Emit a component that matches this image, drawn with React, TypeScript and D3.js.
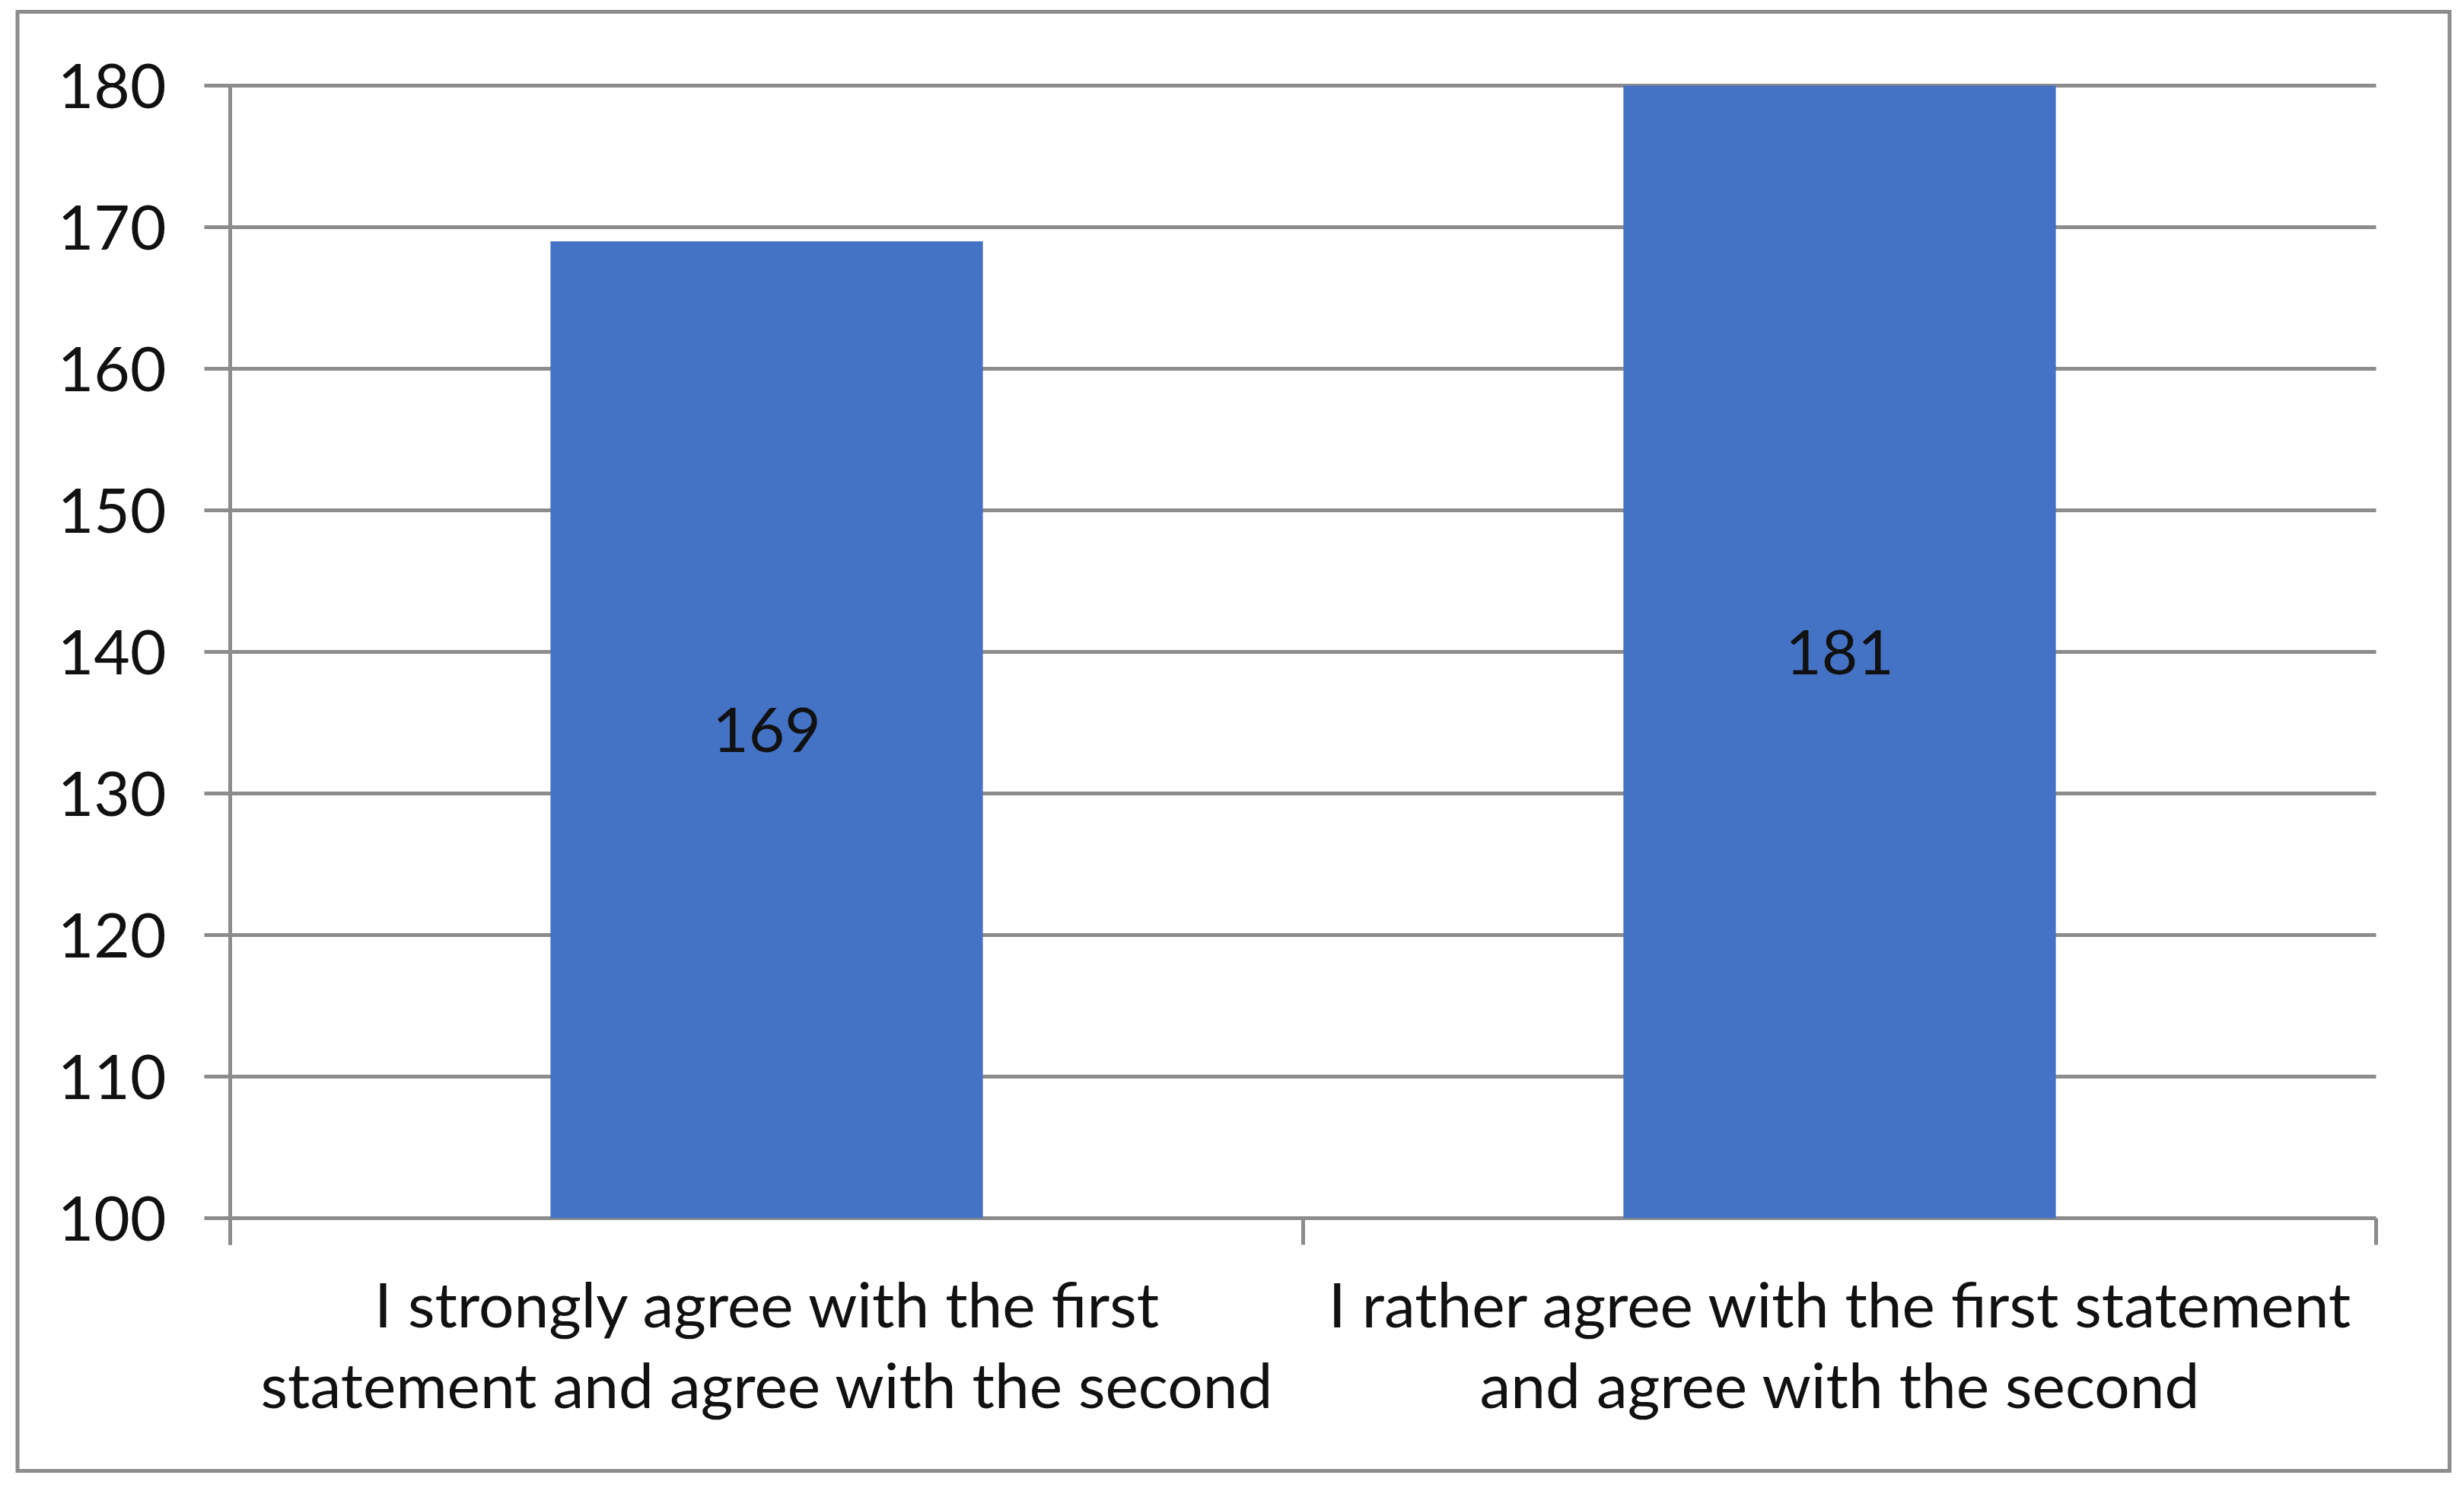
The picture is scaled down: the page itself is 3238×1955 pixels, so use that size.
import React from "react";
import * as d3 from "d3";

const categories = [
  "I strongly agree with the first statement and agree with the second",
  "I rather agree with the first statement and agree with the second",
];
const categoryLines = [
  ["I strongly agree with the first", "statement and agree with the second"],
  ["I rather agree with the first statement", "and agree with the second"],
];
const values = [169, 181];
const yTicks = [100, 110, 120, 130, 140, 150, 160, 170, 180];

const W = 3238;
const H = 1955;
const margin = { top: 112.5, right: 115.5, bottom: 354.5, left: 302.5 };
const gridColor = "#8c8c8c";
const barColor = "#4472c4";
const font = "Lato, 'Open Sans', sans-serif";
const fontSize = 82;

export default function App() {
  const innerW = W - margin.left - margin.right;
  const innerH = H - margin.top - margin.bottom;

  const x = d3
    .scaleBand<string>()
    .domain(categories)
    .range([0, innerW])
    .paddingInner(0.597)
    .paddingOuter(0.2985);

  const y = d3.scaleLinear().domain([100, 180]).range([innerH, 0]).clamp(true);

  const step = innerW / categories.length;
  const xTickPos = d3.range(categories.length + 1).map((i) => i * step);

  return (
    <svg
      width={W}
      height={H}
      style={{ position: "absolute", left: 0, top: 0, background: "#fff" }}
    >
      <rect
        x={23}
        y={15.5}
        width={3196}
        height={1917}
        fill="#fff"
        stroke={gridColor}
        strokeWidth={5}
      />
      <g transform={`translate(${margin.left},${margin.top})`}>
        {/* gridlines + y ticks */}
        {yTicks.map((t) => (
          <g key={t}>
            <line x1={-34} x2={innerW} y1={y(t)} y2={y(t)} stroke={gridColor} strokeWidth={5} />
            <text
              x={-84}
              y={y(t)}
              dy="0.36em"
              textAnchor="end"
              fontFamily={font}
              fontSize={fontSize}
              fill="#111"
            >
              {t}
            </text>
          </g>
        ))}
        {/* y axis line */}
        <line x1={0} x2={0} y1={0} y2={innerH + 35} stroke={gridColor} strokeWidth={5} />
        {/* x ticks */}
        {xTickPos.map((p, i) => (
          <line key={i} x1={p} x2={p} y1={innerH} y2={innerH + 35} stroke={gridColor} strokeWidth={5} />
        ))}
        {/* bars */}
        {categories.map((c, i) => {
          const top = y(values[i]);
          const bx = x(c) as number;
          return (
            <g key={c}>
              <rect x={bx} y={top} width={x.bandwidth()} height={innerH - top} fill={barColor} />
              <text
                x={bx + x.bandwidth() / 2}
                y={(top + innerH) / 2}
                dy="0.36em"
                textAnchor="middle"
                fontFamily={font}
                fontSize={fontSize}
                fill="#111"
              >
                {values[i]}
              </text>
            </g>
          );
        })}
        {/* category labels */}
        {categories.map((c, i) => (
          <text
            key={c}
            x={(x(c) as number) + x.bandwidth() / 2}
            y={innerH + 143}
            textAnchor="middle"
            fontFamily={font}
            fontSize={fontSize}
            fill="#111"
          >
            {categoryLines[i].map((ln, j) => (
              <tspan key={j} x={(x(c) as number) + x.bandwidth() / 2} dy={j === 0 ? 0 : 106}>
                {ln}
              </tspan>
            ))}
          </text>
        ))}
      </g>
    </svg>
  );
}
